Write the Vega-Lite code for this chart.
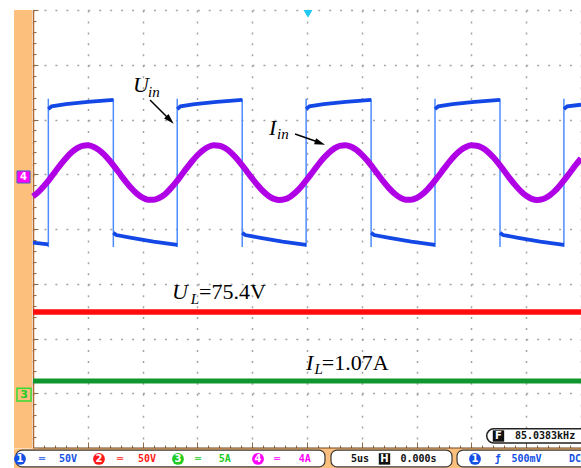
{
 "$schema": "https://vega.github.io/schema/vega-lite/v6.json",
 "width": 548, "height": 438,
 "autosize": {"type": "none"},
 "padding": {"left": 33, "top": 10, "right": 0, "bottom": 20},
 "background": "white",
 "config": {"view": {"stroke": null}},
 "datasets": {
  "sine": [
   {"t":0,"v":4.597},{"t":0.5,"v":4.679},{"t":1,"v":4.785},{"t":1.5,"v":4.908},{"t":2,"v":5.041},{"t":2.5,"v":5.172},{"t":3,"v":5.294},{"t":3.5,"v":5.397},{"t":4,"v":5.473},{"t":4.5,"v":5.519},
   {"t":5,"v":5.529},{"t":5.5,"v":5.504},{"t":6,"v":5.446},{"t":6.5,"v":5.358},{"t":7,"v":5.246},{"t":7.5,"v":5.120},{"t":8,"v":4.987},{"t":8.5,"v":4.857},{"t":9,"v":4.739},{"t":9.5,"v":4.642},
   {"t":10,"v":4.573},{"t":10.5,"v":4.535},{"t":11,"v":4.534},{"t":11.5,"v":4.567},{"t":12,"v":4.627},{"t":12.5,"v":4.728},{"t":13,"v":4.843},{"t":13.5,"v":4.972},{"t":14,"v":5.106},{"t":14.5,"v":5.233},
   {"t":15,"v":5.347},{"t":15.5,"v":5.437},{"t":16,"v":5.500},{"t":16.5,"v":5.528},{"t":17,"v":5.522},{"t":17.5,"v":5.480},{"t":18,"v":5.407},{"t":18.5,"v":5.306},{"t":19,"v":5.186},{"t":19.5,"v":5.055},
   {"t":20,"v":4.923},{"t":20.5,"v":4.798},{"t":21,"v":4.689},{"t":21.5,"v":4.604},{"t":22,"v":4.550},{"t":22.5,"v":4.530},{"t":23,"v":4.545},{"t":23.5,"v":4.595},{"t":24,"v":4.675},{"t":24.5,"v":4.781},
   {"t":25,"v":4.905},{"t":25.5,"v":5.037},{"t":26,"v":5.169},{"t":26.5,"v":5.291},{"t":27,"v":5.394},{"t":27.5,"v":5.472},{"t":28,"v":5.518},{"t":28.5,"v":5.529},{"t":29,"v":5.505},{"t":29.5,"v":5.448},
   {"t":30,"v":5.360},{"t":30.5,"v":5.250},{"t":31,"v":5.124},{"t":31.5,"v":4.991},{"t":32,"v":4.860},{"t":32.5,"v":4.742},{"t":33,"v":4.645},{"t":33.5,"v":4.574},{"t":34,"v":4.536},{"t":34.5,"v":4.533},
   {"t":35,"v":4.565},{"t":35.5,"v":4.631},{"t":36,"v":4.725},{"t":36.5,"v":4.840},{"t":37,"v":4.969},{"t":37.5,"v":5.102},{"t":38,"v":5.230},{"t":38.5,"v":5.344},{"t":39,"v":5.436},{"t":39.5,"v":5.498},
   {"t":40,"v":5.528},{"t":40.5,"v":5.522},{"t":41,"v":5.481},{"t":41.5,"v":5.409},{"t":42,"v":5.309},{"t":42.5,"v":5.190},{"t":43,"v":5.059},{"t":43.5,"v":4.926},{"t":44,"v":4.801},{"t":44.5,"v":4.692},
   {"t":45,"v":4.606},{"t":45.5,"v":4.551},{"t":46,"v":4.530},{"t":46.5,"v":4.545},{"t":47,"v":4.594},{"t":47.5,"v":4.674},{"t":48,"v":4.778},{"t":48.5,"v":4.901},{"t":49,"v":5.033},{"t":49.5,"v":5.165},{"t":50,"v":5.288}
  ],
  "blue": [
   {"t":0,"v":3.75,"seg":0},{"t":1.40,"v":3.72,"seg":0},
   {"t":1.40,"v":6.19,"seg":1},{"t":1.70,"v":6.24,"seg":1},{"t":3.00,"v":6.28,"seg":1},{"t":5.00,"v":6.32,"seg":1},{"t":7.33,"v":6.36,"seg":1},
   {"t":7.33,"v":3.93,"seg":2},{"t":7.60,"v":3.89,"seg":2},{"t":9.00,"v":3.84,"seg":2},{"t":11.00,"v":3.77,"seg":2},{"t":13.16,"v":3.71,"seg":2},
   {"t":13.16,"v":6.19,"seg":3},{"t":13.46,"v":6.24,"seg":3},{"t":14.76,"v":6.28,"seg":3},{"t":16.76,"v":6.32,"seg":3},{"t":19.09,"v":6.36,"seg":3},
   {"t":19.09,"v":3.93,"seg":4},{"t":19.36,"v":3.89,"seg":4},{"t":20.76,"v":3.84,"seg":4},{"t":22.76,"v":3.77,"seg":4},{"t":24.92,"v":3.71,"seg":4},
   {"t":24.92,"v":6.19,"seg":5},{"t":25.22,"v":6.24,"seg":5},{"t":26.52,"v":6.28,"seg":5},{"t":28.52,"v":6.32,"seg":5},{"t":30.85,"v":6.36,"seg":5},
   {"t":30.85,"v":3.93,"seg":6},{"t":31.12,"v":3.89,"seg":6},{"t":32.52,"v":3.84,"seg":6},{"t":34.52,"v":3.77,"seg":6},{"t":36.68,"v":3.71,"seg":6},
   {"t":36.68,"v":6.19,"seg":7},{"t":36.98,"v":6.24,"seg":7},{"t":38.28,"v":6.28,"seg":7},{"t":40.28,"v":6.32,"seg":7},{"t":42.61,"v":6.36,"seg":7},
   {"t":42.61,"v":3.93,"seg":8},{"t":42.88,"v":3.89,"seg":8},{"t":44.28,"v":3.84,"seg":8},{"t":46.28,"v":3.77,"seg":8},{"t":48.44,"v":3.71,"seg":8},
   {"t":48.44,"v":6.19,"seg":9},{"t":48.74,"v":6.24,"seg":9},{"t":50,"v":6.27,"seg":9}
  ],
  "edges": [
   {"t":1.40,"v":3.67,"v2":6.38},{"t":7.33,"v":3.67,"v2":6.38},{"t":13.16,"v":3.67,"v2":6.38},{"t":19.09,"v":3.67,"v2":6.38},
   {"t":24.92,"v":3.67,"v2":6.38},{"t":30.85,"v":3.67,"v2":6.38},{"t":36.68,"v":3.67,"v2":6.38},{"t":42.61,"v":3.67,"v2":6.38},{"t":48.44,"v":3.67,"v2":6.38}
  ],
  "dc": [
   {"t":0,"v":2.484,"ch":"UL"},{"t":50,"v":2.484,"ch":"UL"},
   {"t":0,"v":1.224,"ch":"IL"},{"t":50,"v":1.224,"ch":"IL"}
  ],
  "panels": [
   {"name":"strip","t":-1.73,"t2":-0.09,"v":0,"v2":8},
   {"name":"barbg","t":-1.73,"t2":53,"v":-0.01,"v2":-0.37},
   {"name":"box","t":-1.55,"t2":26.64,"v":-0.04,"v2":-0.345},
   {"name":"box","t":27.19,"t2":38.23,"v":-0.04,"v2":-0.345},
   {"name":"box","t":38.69,"t2":53,"v":-0.04,"v2":-0.345},
   {"name":"fbox","t":41.4,"t2":53,"v":0.09,"v2":0.35},
   {"name":"m4","t":-1.46,"t2":-0.27,"v":4.84,"v2":5.06},
   {"name":"m3","t":-1.46,"t2":-0.18,"v":0.86,"v2":1.09}
  ],
  "ann": [
   {"t":9.12,"v":6.50,"text":"U","kind":"big"},
   {"t":10.49,"v":6.41,"text":"in","kind":"sub"},
   {"t":21.53,"v":5.72,"text":"I","kind":"big"},
   {"t":22.26,"v":5.64,"text":"in","kind":"sub"},
   {"t":12.68,"v":2.72,"text":"U","kind":"big"},
   {"t":14.40,"v":2.63,"text":"L","kind":"sub"},
   {"t":15.15,"v":2.72,"text":"=75.4V","kind":"rom"},
   {"t":24.91,"v":1.425,"text":"I","kind":"big"},
   {"t":25.68,"v":1.352,"text":"L","kind":"sub"},
   {"t":26.35,"v":1.425,"text":"=1.07A","kind":"rom"}
  ],
  "arrows": [
   {"t":10.68,"v":6.356,"t2":12.32,"v2":6.027},
   {"t":23.91,"v":5.735,"t2":26.00,"v2":5.589}
  ],
  "heads": [
   {"name":"u","t":12.50,"v":5.991},
   {"name":"i","t":26.19,"v":5.571}
  ],
  "circles": [
   {"t":-1.19,"v":-0.2,"text":"1","g":"c1"},
   {"t":6.02,"v":-0.2,"text":"2","g":"c2"},
   {"t":13.23,"v":-0.2,"text":"3","g":"c3"},
   {"t":20.53,"v":-0.2,"text":"4","g":"c4"},
   {"t":40.33,"v":-0.2,"text":"1","g":"c1"}
  ],
  "bartext": [
   {"t":0.82,"v":-0.2,"text":"═","g":"c1"},
   {"t":3.19,"v":-0.2,"text":"50V","g":"c1"},
   {"t":7.94,"v":-0.2,"text":"═","g":"c2"},
   {"t":10.4,"v":-0.2,"text":"50V","g":"c2"},
   {"t":15.06,"v":-0.2,"text":"═","g":"c3"},
   {"t":17.5,"v":-0.2,"text":"5A","g":"c3"},
   {"t":22.27,"v":-0.2,"text":"═","g":"c4"},
   {"t":24.8,"v":-0.2,"text":"4A","g":"c4"},
   {"t":29.84,"v":-0.2,"text":"5us","g":"k"},
   {"t":35.17,"v":-0.2,"text":"0.000s","g":"k"},
   {"t":42.4,"v":-0.2,"text":"ƒ","g":"c1"},
   {"t":45.03,"v":-0.2,"text":"500mV","g":"c1"},
   {"t":49.45,"v":-0.2,"text":"DC","g":"c1"},
   {"t":46.72,"v":0.219,"text":"85.0383kHz","g":"k"}
  ],
  "icons": [
   {"t":32.07,"v":-0.2,"text":"H"},
   {"t":42.47,"v":0.219,"text":"F"}
  ],
  "trig": [{"t":25.09,"v":7.93}],
  "markers": [
   {"t":-0.87,"v":4.95,"text":"4","g":"c4"},
   {"t":-0.82,"v":0.975,"text":"3","g":"c3"}
  ]
 },
 "encoding": {
  "x": {"field":"t","type":"quantitative",
   "scale":{"domain":[0,50],"nice":false,"zero":false},
   "axis":{"values":[0,1,2,3,4,5,6,7,8,9,10,11,12,13,14,15,16,17,18,19,20,21,22,23,24,25,26,27,28,29,30,31,32,33,34,35,36,37,38,39,40,41,42,43,44,45,46,47,48,49,50],
    "labels":false,"title":null,"domainColor":"#6e4420","domainWidth":2,
    "tickColor":"#8a6a4a",
    "tickSize":{"condition":{"test":"datum.value % 5 === 0","value":-6},"value":-3},
    "grid":true,"gridColor":"#a4a4a4","gridDash":[2,8.95],"gridWidth":1.5,
    "gridOpacity":{"condition":{"test":"datum.value % 5 === 0","value":1},"value":0}}},
  "y": {"field":"v","type":"quantitative",
   "scale":{"domain":[0,8],"nice":false,"zero":false},
   "axis":{"values":[0,0.2,0.4,0.6,0.8,1,1.2,1.4,1.6,1.8,2,2.2,2.4,2.6,2.8,3,3.2,3.4,3.6,3.8,4,4.2,4.4,4.6,4.8,5,5.2,5.4,5.6,5.8,6,6.2,6.4,6.6,6.8,7,7.2,7.4,7.6,7.8,8],
    "labels":false,"title":null,"domainColor":"#b0682c","domainWidth":1.5,
    "tickColor":"#8a6a4a",
    "tickSize":{"condition":{"test":"abs(datum.value - round(datum.value)) < 0.01","value":-5},"value":-3},
    "grid":true,"gridColor":"#a4a4a4","gridDash":[2,8.95],"gridWidth":1.5,
    "gridOpacity":{"condition":{"test":"abs(datum.value - round(datum.value)) < 0.01","value":1},"value":0}}}
 },
 "layer": [
  {"data":{"name":"panels"},"transform":[{"filter":"datum.name === 'strip' || datum.name === 'barbg'"}],
   "mark":{"type":"rect","color":"#fdbf7c"},
   "encoding":{"x2":{"field":"t2"},"y2":{"field":"v2"}}},
  {"data":{"name":"panels"},"transform":[{"filter":"datum.name === 'box'"}],
   "mark":{"type":"rect","fill":"white","stroke":"#3a3a3a","strokeWidth":1.2,"cornerRadius":6},
   "encoding":{"x2":{"field":"t2"},"y2":{"field":"v2"}}},
  {"data":{"name":"panels"},"transform":[{"filter":"datum.name === 'fbox'"}],
   "mark":{"type":"rect","fill":"white","stroke":"#222222","strokeWidth":1.5,"cornerRadius":7},
   "encoding":{"x2":{"field":"t2"},"y2":{"field":"v2"}}},
  {"data":{"name":"panels"},"transform":[{"filter":"datum.name === 'm4'"}],
   "mark":{"type":"rect","fill":"#ff00ff","stroke":"#4060c0","strokeWidth":1},
   "encoding":{"x2":{"field":"t2"},"y2":{"field":"v2"}}},
  {"data":{"name":"panels"},"transform":[{"filter":"datum.name === 'm3'"}],
   "mark":{"type":"rect","fill":null,"stroke":"#33dd33","strokeWidth":1.5},
   "encoding":{"x2":{"field":"t2"},"y2":{"field":"v2"}}},
  {"data":{"name":"markers"},"transform":[{"filter":"datum.text === '4'"}],
   "mark":{"type":"text","color":"white","font":"DejaVu Sans","fontWeight":"bold","fontSize":10,"baseline":"middle","align":"center"},
   "encoding":{"text":{"field":"text"}}},
  {"data":{"name":"markers"},"transform":[{"filter":"datum.text === '3'"}],
   "mark":{"type":"text","color":"#22cc22","font":"DejaVu Sans","fontWeight":"bold","fontSize":11,"baseline":"middle","align":"center"},
   "encoding":{"text":{"field":"text"}}},
  {"data":{"name":"trig"},
   "mark":{"type":"point","shape":"triangle-down","filled":true,"size":80,"color":"#1ec8f0","opacity":1}},
  {"data":{"name":"edges"},
   "mark":{"type":"rule","color":"#4d8cff","strokeWidth":1.5},
   "encoding":{"y2":{"field":"v2"}}},
  {"data":{"name":"blue"},
   "mark":{"type":"line","color":"#1448e6","strokeWidth":3.8},
   "encoding":{"detail":{"field":"seg"}}},
  {"data":{"name":"sine"},
   "mark":{"type":"line","color":"#b000e6","strokeWidth":6,"interpolate":"monotone"}},
  {"data":{"name":"dc"},"transform":[{"filter":"datum.ch === 'UL'"}],
   "mark":{"type":"line","color":"#ff0d0d","strokeWidth":5.5}},
  {"data":{"name":"dc"},"transform":[{"filter":"datum.ch === 'IL'"}],
   "mark":{"type":"line","color":"#0f962e","strokeWidth":5}},
  {"data":{"name":"arrows"},
   "mark":{"type":"rule","color":"black","strokeWidth":1.5},
   "encoding":{"x2":{"field":"t2"},"y2":{"field":"v2"}}},
  {"data":{"name":"heads"},"transform":[{"filter":"datum.name === 'u'"}],
   "mark":{"type":"point","shape":"M0,-1L0.6,1L-0.6,1Z","filled":true,"size":110,"color":"black","opacity":1,"angle":135}},
  {"data":{"name":"heads"},"transform":[{"filter":"datum.name === 'i'"}],
   "mark":{"type":"point","shape":"M0,-1L0.6,1L-0.6,1Z","filled":true,"size":110,"color":"black","opacity":1,"angle":109}},
  {"data":{"name":"ann"},"transform":[{"filter":"datum.kind === 'big'"}],
   "mark":{"type":"text","font":"Liberation Serif","fontStyle":"italic","fontSize":22,"align":"left","baseline":"alphabetic","color":"black"},
   "encoding":{"text":{"field":"text"}}},
  {"data":{"name":"ann"},"transform":[{"filter":"datum.kind === 'sub'"}],
   "mark":{"type":"text","font":"Liberation Serif","fontStyle":"italic","fontSize":15,"align":"left","baseline":"alphabetic","color":"black"},
   "encoding":{"text":{"field":"text"}}},
  {"data":{"name":"ann"},"transform":[{"filter":"datum.kind === 'rom'"}],
   "mark":{"type":"text","font":"Liberation Serif","fontSize":22,"align":"left","baseline":"alphabetic","color":"black"},
   "encoding":{"text":{"field":"text"}}},
  {"data":{"name":"circles"},
   "mark":{"type":"point","shape":"circle","filled":true,"size":140,"opacity":1},
   "encoding":{"color":{"field":"g","type":"nominal","scale":{"domain":["c1","c2","c3","c4","k"],"range":["#1450e6","#ff1a1a","#22cc22","#ff00ff","#111111"]},"legend":null}}},
  {"data":{"name":"circles"},
   "mark":{"type":"text","color":"white","font":"DejaVu Sans","fontWeight":"bold","fontSize":10,"baseline":"middle","align":"center"},
   "encoding":{"text":{"field":"text"}}},
  {"data":{"name":"icons"},
   "mark":{"type":"point","shape":"square","filled":true,"size":130,"color":"#111111","opacity":1}},
  {"data":{"name":"icons"},
   "mark":{"type":"text","color":"white","font":"DejaVu Sans","fontWeight":"bold","fontSize":10,"baseline":"middle","align":"center"},
   "encoding":{"text":{"field":"text"}}},
  {"data":{"name":"bartext"},
   "mark":{"type":"text","font":"DejaVu Sans Mono","fontWeight":"bold","fontSize":10,"baseline":"middle","align":"center"},
   "encoding":{"text":{"field":"text"},"color":{"field":"g","type":"nominal","scale":{"domain":["c1","c2","c3","c4","k"],"range":["#1450e6","#ff1a1a","#22cc22","#ff00ff","#111111"]},"legend":null}}}
 ]
}
